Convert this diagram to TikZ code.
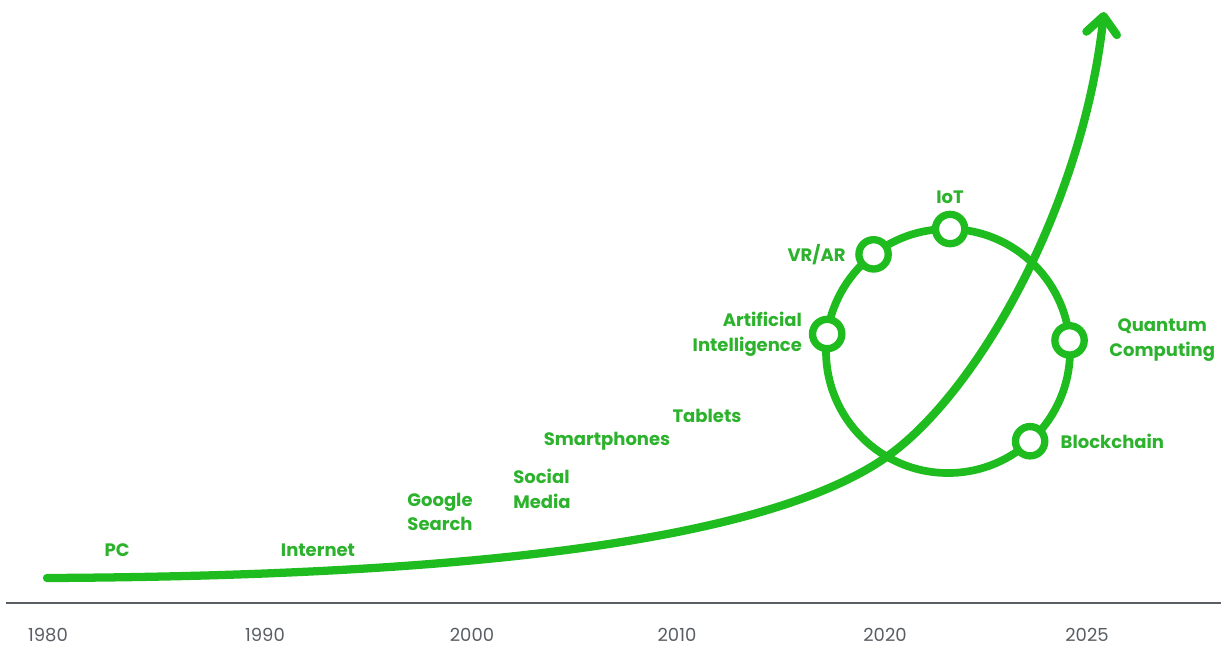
\documentclass[tikz,border=0pt]{standalone}
\usepackage{fontspec}
\setmainfont{Poppins}
\usetikzlibrary{positioning,arrows.meta,calc}
\definecolor{trend}{RGB}{30,188,30}
\definecolor{techtext}{RGB}{44,178,44}
\definecolor{axisgray}{RGB}{88,94,100}
\tikzset{
  tech/.style={text=techtext,font=\bfseries\fontsize{13.5}{18.5}\selectfont,inner sep=1pt,align=center},
  year/.style={text=axisgray,font=\fontsize{13.5}{15}\selectfont,inner sep=1pt},
  station/.style={circle,draw=trend,fill=white,line width=5.5pt,minimum size=22pt,inner sep=0pt},
  >={Straight Barb[round,length=13pt,width=23pt]},
}

\begin{document}
\begin{tikzpicture}[x=0.75pt,y=-0.75pt]
  \useasboundingbox (0,0) rectangle (1221,646);
  % time axis
  \coordinate (axisL) at (6,603);
  \coordinate (axisR) at (1221,603);
  \draw[axisgray,line width=2.2pt] (axisL) -- (axisR);
  \node[year] (y1980) at (48,635)   {1980};
  \node[year] (y1990) at (265,635)  {1990};
  \node[year] (y2000) at (472,635)  {2000};
  \node[year] (y2010) at (677,635)  {2010};
  \node[year] (y2020) at (885,635)  {2020};
  \node[year] (y2025) at (1087,635) {2025};
  % cycle of emerging technologies (angles negative: y points down)
  \coordinate (hub) at (948,351);
  \draw[trend,line width=5.8pt] (hub) circle[radius=122];
  % growth curve
  \coordinate (start) at (47,578);
  \coordinate (cross) at (885,458);
  \coordinate (tip)   at (1104,12);
  \draw[trend,line width=6.2pt,line cap=round,->]
    (start) .. controls (450,576) and (760,544) .. (cross)
            .. controls (975,396) and (1082,210) .. (tip);
  % stations on the cycle
  \node[station] (ai)  at ($(hub)+(-172:122)$) {};
  \node[station] (vr)  at ($(hub)+(-127.6:122)$) {};
  \node[station] (iot) at ($(hub)+(-89:122)$) {};
  \node[station] (qc)  at ($(hub)+(-5:122)$) {};
  \node[station] (bc)  at ($(hub)+(47.7:122)$) {};
  % labels
  \node[tech] (pc)       at (117,550) {PC};
  \node[tech] (internet) at (318,550) {Internet};
  \node[tech] (google)   at (440,512) {Google\\Search};
  \node[tech,align=left] (social) at (542,489) {Social\\Media};
  \node[tech] (smart)    at (607,441) {Smartphones};
  \node[tech] (tablets)  at (707,416) {Tablets};
  \node[tech,align=right,left=4pt of ai] (ailab) {Artificial\\Intelligence};
  \node[tech,left=6pt of vr] (vrlab) {VR/AR};
  \node[tech,above=4pt of iot] (iotlab) {IoT};
  \node[tech,right=15pt of qc] (qclab) {Quantum\\Computing};
  \node[tech,right=8pt of bc] (bclab) {Blockchain};
\end{tikzpicture}
\end{document}
